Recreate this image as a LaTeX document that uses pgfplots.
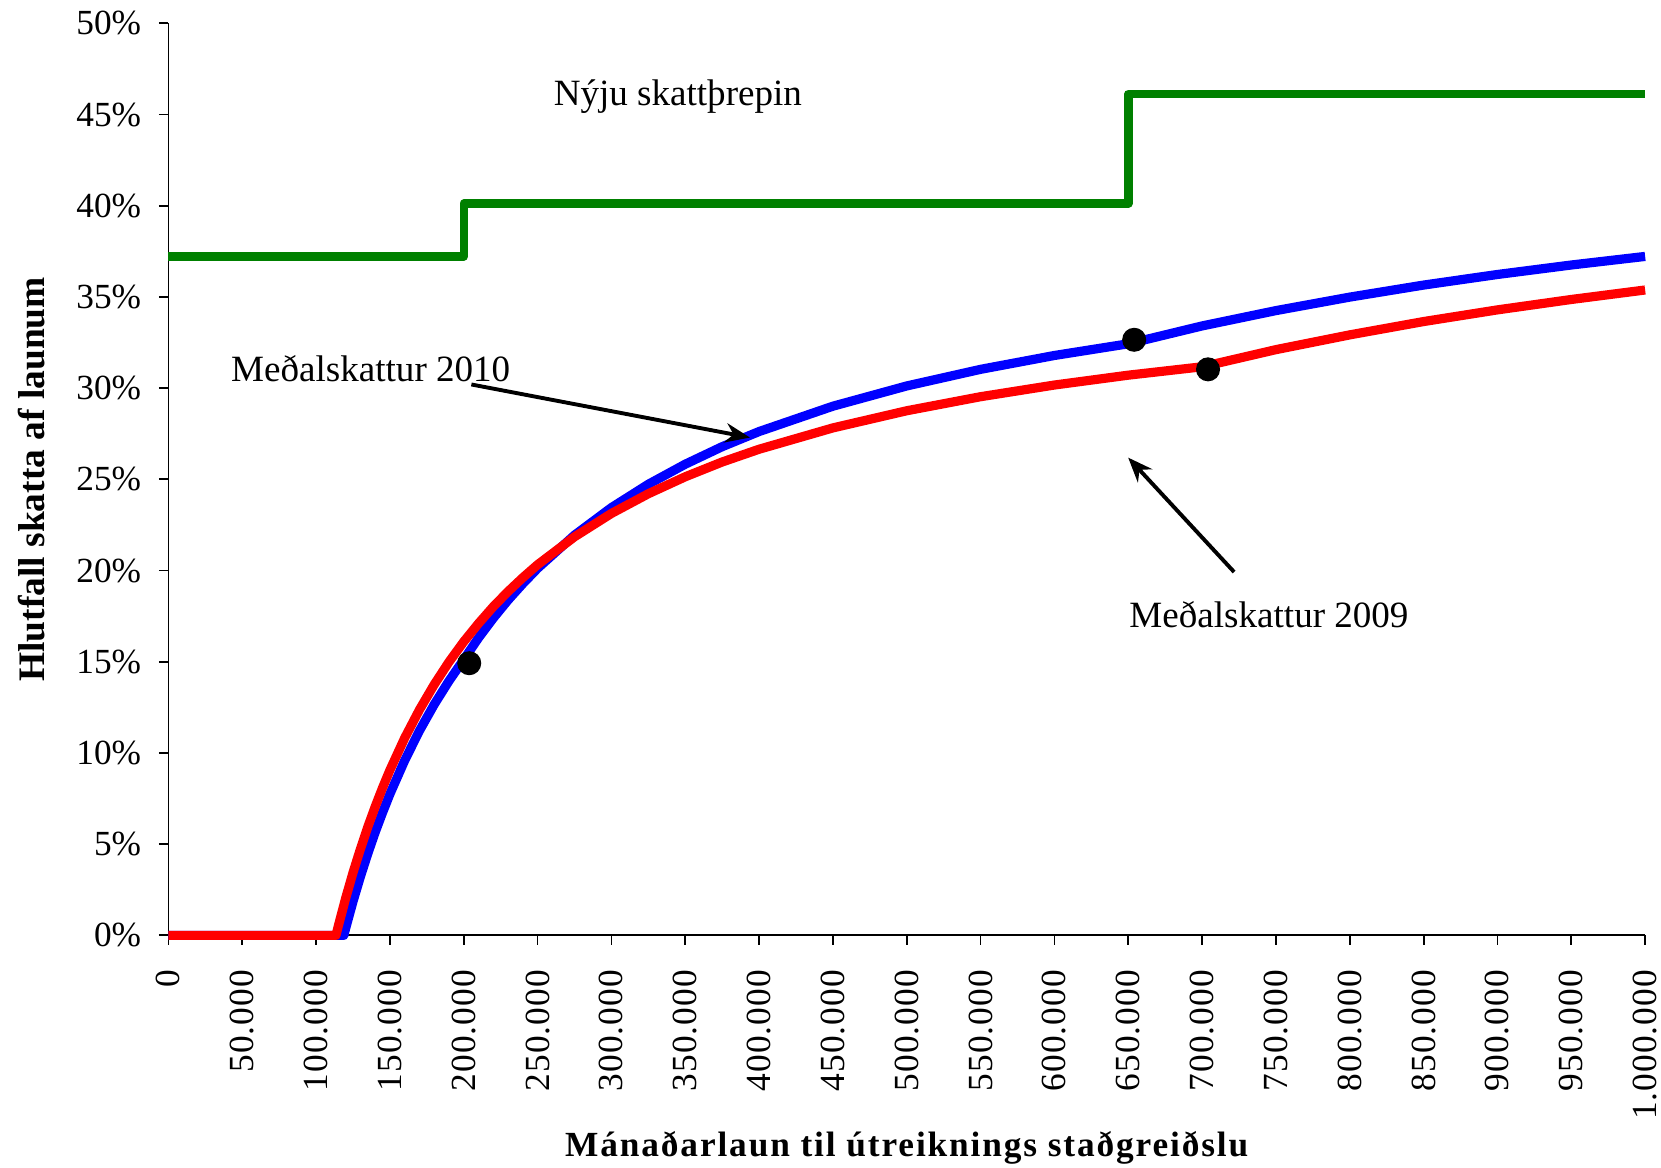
\documentclass[border=0pt]{standalone}
\usepackage{fontspec}
\setmainfont{Liberation Serif}
\usepackage{pgfplots}
\pgfplotsset{compat=1.18}
\usetikzlibrary{arrows.meta}
\definecolor{cgreen}{RGB}{0,128,0}
\begin{document}
\begin{tikzpicture}
\begin{axis}[
  scale only axis,
  width=418.2pt, height=258.3pt,
  xmin=0, xmax=1000000, ymin=0, ymax=50,
  clip=false,
  axis x line*=bottom, axis y line*=left,
  axis line style={line width=0.5pt},
  tick align=outside, major tick length=2.7pt,
  tick style={black, line width=0.5pt},
  scaled x ticks=false,
  xtick={0,50000,100000,150000,200000,250000,300000,350000,400000,450000,500000,550000,600000,650000,700000,750000,800000,850000,900000,950000,1000000},
  xticklabels={0,50.000,100.000,150.000,200.000,250.000,300.000,350.000,400.000,450.000,500.000,550.000,600.000,650.000,700.000,750.000,800.000,850.000,900.000,950.000,1.000.000},
  ytick={0,5,10,15,20,25,30,35,40,45,50},
  yticklabels={0\%,5\%,10\%,15\%,20\%,25\%,30\%,35\%,40\%,45\%,50\%},
  tick label style={font=\fontsize{10}{12}\selectfont},
  x tick label style={rotate=90, anchor=east, font=\fontsize{10}{12}\selectfont\addfontfeatures{LetterSpace=3}},
  xticklabel shift=3.6pt,
  yticklabel shift=1.5pt,
  every axis x label/.style={at={(axis description cs:0.5,0)}, anchor=base, inner sep=0pt, yshift=-62.7pt},
  every axis y label/.style={at={(axis description cs:0,0.5)}, anchor=center, xshift=-38.7pt, rotate=90},
  xlabel={\fontsize{10}{12}\selectfont\bfseries\addfontfeatures{LetterSpace=5.3}Mánaðarlaun til útreiknings staðgreiðslu},
  ylabel={\fontsize{10.6}{12}\selectfont\bfseries Hlutfall skatta af launum},
]
% Green: new tax brackets
\addplot[cgreen, line width=2.4pt, line join=round] coordinates {
 (0,37.22) (200000,37.22) (200000,40.12) (650000,40.12) (650000,46.12) (1000000,46.12)};
% Blue: average tax 2010
\addplot[blue, line width=2.6pt, line join=round] coordinates {
 (0,0) (118767,0) (120000,0.38) (125000,1.86) (130000,3.22) (135000,4.48) (140000,5.65)
 (145000,6.73) (150000,7.75) (160000,9.59) (170000,11.22) (180000,12.66) (190000,13.95)
 (200000,15.12) (210000,16.31) (220000,17.39) (230000,18.38) (240000,19.28) (250000,20.12)
 (275000,21.94) (300000,23.45) (325000,24.73) (350000,25.83) (375000,26.79) (400000,27.62)
 (450000,29.01) (500000,30.12) (550000,31.03) (600000,31.79) (650000,32.43) (700000,33.41)
 (750000,34.25) (800000,34.99) (850000,35.65) (900000,36.23) (950000,36.75) (1000000,37.22)};
% Red: average tax 2009
\addplot[red, line width=2.6pt, line join=round] coordinates {
 (0,0) (113454,0) (115000,0.50) (120000,2.03) (125000,3.44) (130000,4.73) (135000,5.94)
 (140000,7.05) (145000,8.09) (150000,9.06) (160000,10.82) (170000,12.37) (180000,13.75)
 (190000,14.99) (200000,16.10) (210000,17.10) (220000,18.02) (230000,18.85) (240000,19.61)
 (250000,20.32) (275000,21.85) (300000,23.13) (325000,24.21) (350000,25.14) (375000,25.95)
 (400000,26.65) (450000,27.82) (500000,28.76) (550000,29.53) (600000,30.17) (650000,30.71)
 (700000,31.17) (750000,32.11) (800000,32.92) (850000,33.65) (900000,34.29) (950000,34.86)
 (1000000,35.38)};
% Black dots
\addplot[only marks, mark=*, mark size=3.2pt, black] coordinates {
 (203700,14.92) (654000,32.65) (704000,31.03)};
% Annotations
\node[font=\fontsize{10.5}{12}\selectfont] at (axis cs:345000,46.0) {Nýju skattþrepin};
\node[font=\fontsize{10.5}{12}\selectfont] at (axis cs:137000,31.07) {Meðalskattur 2010};
\node[font=\fontsize{10.5}{12}\selectfont] at (axis cs:745300,17.6) {Meðalskattur 2009};
\draw[line width=1.1pt, -{Stealth[length=7pt,width=5.5pt]}] (axis cs:205165,30.2) -- (axis cs:393830,27.29);
\draw[line width=1.1pt, -{Stealth[length=7pt,width=5.5pt]}] (axis cs:721664,19.92) -- (axis cs:649928,26.19);
\end{axis}
\path (current axis.south west) ++(-47.7pt,-65.7pt) coordinate (bbA);
\path (current axis.north east) ++(4.5pt,6.6pt) coordinate (bbB);
\pgfresetboundingbox
\path[use as bounding box] (bbA) rectangle (bbB);
\end{tikzpicture}
\end{document}
